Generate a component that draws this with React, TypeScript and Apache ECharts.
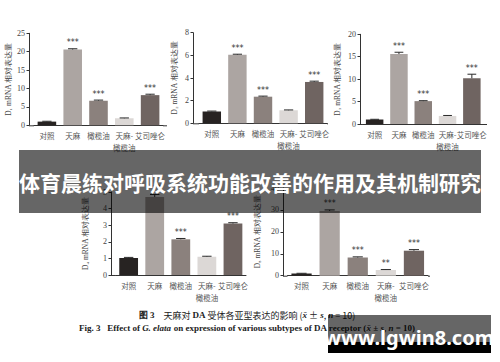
import React, { useEffect, useRef } from "react";
import * as echarts from "echarts";

const categories = ["对照", "天麻", "橄榄油", "天麻-\n橄榄油", "艾司唑仑"];
const barColors = ["#272322", "#aca5a2", "#8b817d", "#dcd8d6", "#6f6461"];

const d1Values = [1.0, 20.6, 6.7, 1.9, 8.2];
const d1Errors = [0.1, 0.2, 0.15, 0.1, 0.25];
const d1Stars = ["", "***", "***", "", "***"];

const d2Values = [1.05, 6.05, 2.35, 1.15, 3.65];
const d2Errors = [0.03, 0.05, 0.05, 0.03, 0.07];
const d2Stars = ["", "***", "***", "", "***"];

const d3Values = [1.0, 15.6, 5.1, 1.8, 10.2];
const d3Errors = [0.05, 0.4, 0.1, 0.1, 0.9];
const d3Stars = ["", "***", "***", "", "***"];

const d4Values = [1.02, 4.7, 2.15, 1.1, 3.1];
const d4Errors = [0.04, 0.15, 0.05, 0.03, 0.05];
const d4Stars = ["", "***", "***", "", "***"];

const d5Values = [1.0, 29.5, 8.3, 2.6, 11.4];
const d5Errors = [0.1, 0.5, 0.3, 0.2, 0.5];
const d5Stars = ["", "***", "***", "**", "***"];

const yNames = ["D₁ mRNA 相对表达量", "D₂ mRNA 相对表达量", "D₃ mRNA 相对表达量", "D₄ mRNA 相对表达量", "D₅ mRNA 相对表达量"];
const yMax = [25, 8, 20, 5, 40];
const yInterval = [5, 2, 5, 1, 10];

const titleText = "体育晨练对呼吸系统功能改善的作用及其机制研究";
const watermarkText = "www.lgwin8.com";

// layout: axisLeft, bandLeft, bandRight, axisRight, top, bottom, nameGap
const panels = [
  { axisLeft: 29, bandLeft: 34, bandRight: 163, axisRight: 167, top: 33.3, bottom: 125.3, nameGap: 17 },
  { axisLeft: 193, bandLeft: 199, bandRight: 327, axisRight: 328, top: 32.7, bottom: 123.3, nameGap: 15 },
  { axisLeft: 360, bandLeft: 362.5, bandRight: 484, axisRight: 487, top: 34.3, bottom: 124, nameGap: 19 },
  { axisLeft: 111, bandLeft: 115.6, bandRight: 246, axisRight: 246, top: 192, bottom: 275, nameGap: 22 },
  { axisLeft: 283, bandLeft: 287.5, bandRight: 428, axisRight: 430, top: 188, bottom: 275.7, nameGap: 22 },
];

const allValues = [d1Values, d2Values, d3Values, d4Values, d5Values];
const allErrors = [d1Errors, d2Errors, d3Errors, d4Errors, d5Errors];
const allStars = [d1Stars, d2Stars, d3Stars, d4Stars, d5Stars];

export default function App() {
  const ref = useRef<HTMLDivElement>(null);
  useEffect(() => {
    if (!ref.current) return;
    const chart = echarts.init(ref.current, null, { renderer: "svg" });
    const grids: any[] = [];
    const xAxes: any[] = [];
    const yAxes: any[] = [];
    const series: any[] = [];
    const graphics: any[] = [];

    panels.forEach((p, k) => {
      grids.push({
        left: p.bandLeft,
        top: p.top,
        width: p.bandRight - p.bandLeft,
        height: p.bottom - p.top,
      });
      xAxes.push({
        type: "category",
        gridIndex: k,
        data: categories,
        axisLine: { lineStyle: { color: "#333", width: 1 } },
        axisTick: { show: false },
        axisLabel: {
          interval: 0,
          fontSize: 7.5,
          color: "#555",
          margin: 4,
          lineHeight: 12,
          fontFamily: "Noto Sans CJK SC",
          hideOverlap: false,
        },
      });
      yAxes.push({
        type: "value",
        gridIndex: k,
        min: 0,
        max: yMax[k],
        interval: yInterval[k],
        offset: p.bandLeft - p.axisLeft,
        name: yNames[k],
        nameLocation: "middle",
        nameGap: p.nameGap,
        nameRotate: 90,
        nameTextStyle: { fontSize: 7.5, color: "#444", fontFamily: "Liberation Serif" },
        axisLine: { show: true, lineStyle: { color: "#333", width: 1 } },
        axisTick: { show: true, length: 2.5, lineStyle: { color: "#333" } },
        splitLine: { show: false },
        axisLabel: { fontSize: 8, color: "#444", margin: 4, fontFamily: "Liberation Serif" },
      });
      series.push({
        type: "bar",
        xAxisIndex: k,
        yAxisIndex: k,
        barWidth: "72%",
        data: allValues[k].map((v, i) => ({ value: v, itemStyle: { color: barColors[i] } })),
      });
      const stars = allStars[k];
      series.push({
        type: "custom",
        xAxisIndex: k,
        yAxisIndex: k,
        data: allValues[k].map((v, i) => [i, v, allErrors[k][i]]),
        z: 5,
        renderItem: (params: any, api: any) => {
          const i = api.value(0);
          const v = api.value(1);
          const e = api.value(2);
          const top = api.coord([i, v + e]);
          const mid = api.coord([i, v]);
          const bw = api.size([1, 0])[0] * 0.72;
          const cap = bw * 0.5;
          const children: any[] = [
            {
              type: "line",
              shape: { x1: top[0], y1: top[1], x2: mid[0], y2: mid[1] },
              style: { stroke: "#2a2a2a", lineWidth: 1 },
            },
            {
              type: "line",
              shape: { x1: top[0] - cap / 2, y1: top[1], x2: top[0] + cap / 2, y2: top[1] },
              style: { stroke: "#2a2a2a", lineWidth: 1 },
            },
          ];
          const s = stars[params.dataIndex];
          if (s) {
            children.push({
              type: "text",
              style: {
                text: s,
                x: top[0],
                y: top[1] - 2,
                align: "center",
                verticalAlign: "bottom",
                fontSize: 8,
                fill: "#333",
                fontFamily: "DejaVu Sans",
              },
            });
          }
          return { type: "group", children };
        },
      });
      graphics.push({
        type: "line",
        shape: { x1: p.axisLeft, y1: p.bottom + 0.5, x2: p.bandLeft, y2: p.bottom + 0.5 },
        style: { stroke: "#333", lineWidth: 1 },
      });
      if (p.axisRight > p.bandRight) {
        graphics.push({
          type: "line",
          shape: { x1: p.bandRight, y1: p.bottom + 0.5, x2: p.axisRight, y2: p.bottom + 0.5 },
          style: { stroke: "#333", lineWidth: 1 },
        });
      }
    });

    graphics.push({
      type: "text",
      x: 247,
      y: 315,
      style: {
        text: "{b|图 3}　天麻对 {b|DA} 受体各亚型表达的影响 ({i|x̄} ± {i|s}, {i|n} = 10)",
        align: "center",
        verticalAlign: "middle",
        fontSize: 9,
        fill: "#222",
        fontFamily: "Noto Sans CJK SC",
        rich: {
          b: { fontSize: 9, fontWeight: "bold", fontFamily: "Liberation Serif", fill: "#222" },
          i: { fontSize: 9, fontStyle: "italic", fontWeight: "bold", fontFamily: "Liberation Serif", fill: "#222" },
        },
      },
    });
    graphics.push({
      type: "text",
      x: 247,
      y: 328,
      style: {
        text: "Fig. 3   Effect of {i|G. elata} on expression of various subtypes of DA receptor ({i|x̄} ± {i|s}, {i|n} = 10)",
        align: "center",
        verticalAlign: "middle",
        fontSize: 9,
        fontWeight: "bold",
        fill: "#222",
        fontFamily: "Liberation Serif",
        rich: {
          i: { fontSize: 9, fontStyle: "italic", fontWeight: "bold", fontFamily: "Liberation Serif", fill: "#222" },
        },
      },
    });

    graphics.push({
      type: "rect",
      z: 100,
      shape: { x: 19, y: 150, width: 462, height: 63 },
      style: { fill: "rgba(0,0,0,0.6)" },
    });
    graphics.push({
      type: "text",
      z: 101,
      x: 250,
      y: 182,
      style: {
        text: titleText,
        align: "center",
        verticalAlign: "middle",
        fontSize: 21,
        fontWeight: "bold",
        fill: "#ffffff",
        fontFamily: "Noto Sans CJK SC",
      },
    });

    graphics.push({
      type: "rect",
      z: 100,
      shape: { x: 328, y: 315, width: 163, height: 27 },
      style: { fill: "rgba(0,0,0,0.6)" },
    });
    graphics.push({
      type: "rect",
      z: 100,
      shape: { x: 328, y: 342, width: 163, height: 11 },
      style: { fill: "#000000" },
    });
    graphics.push({
      type: "text",
      z: 101,
      x: 409,
      y: 337,
      style: {
        text: watermarkText,
        align: "center",
        verticalAlign: "middle",
        fontSize: 20,
        fontWeight: "bold",
        fill: "#ffffff",
        fontFamily: "Noto Sans",
      },
    });

    chart.setOption({
      animation: false,
      backgroundColor: "#ffffff",
      grid: grids,
      xAxis: xAxes,
      yAxis: yAxes,
      series,
      graphic: { elements: graphics },
    });
    return () => chart.dispose();
  }, []);
  return (
    <div
      ref={ref}
      style={{ position: "absolute", left: 0, top: 0, width: 500, height: 362 }}
    />
  );
}
